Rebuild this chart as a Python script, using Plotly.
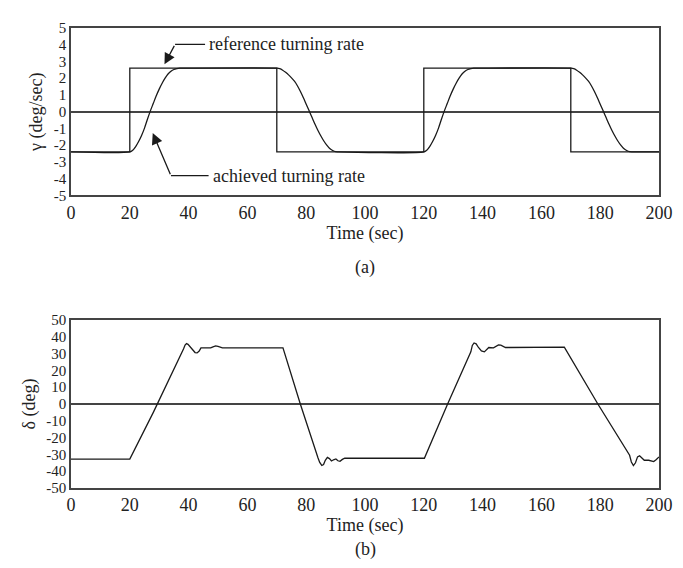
import plotly.graph_objects as go
from plotly.subplots import make_subplots

# ---------------- data ----------------
# (a) reference turning rate (step signal)
ref_t = [0, 20, 20, 70, 70, 120, 120, 170, 170, 200]
ref_gamma = [-2.4, -2.4, 2.6, 2.6, -2.4, -2.4, 2.6, 2.6, -2.4, -2.4]

# (a) achieved turning rate
ach_t = [0, 20, 21, 22, 23, 24, 25, 26, 27, 28, 29, 30, 31, 32, 33, 34, 35, 36, 37, 38,
         70, 71, 72, 73, 74, 75, 76, 77, 78, 79, 80, 81, 82, 83, 84, 85, 86, 87, 88, 89, 90, 91,
         120, 121, 122, 123, 124, 125, 126, 127, 128, 129, 130, 131, 132, 133, 134, 135, 136, 137, 138,
         170, 171, 172, 173, 174, 175, 176, 177, 178, 179, 180, 181, 182, 183, 184, 185, 186, 187, 188, 189, 190, 191,
         200]
ach_gamma = [-2.4, -2.4, -2.3, -2.08, -1.78, -1.42, -0.98, -0.45, 0.05, 0.5, 0.95, 1.35, 1.7, 2.0, 2.25, 2.42, 2.52, 2.57, 2.6, 2.6,
             2.6, 2.57, 2.48, 2.35, 2.2, 2.02, 1.82, 1.55, 1.22, 0.85, 0.45, 0.05, -0.35, -0.75, -1.12, -1.45, -1.75, -2.0, -2.2, -2.32, -2.39, -2.4,
             -2.4, -2.3, -2.08, -1.78, -1.42, -0.98, -0.45, 0.05, 0.5, 0.95, 1.35, 1.7, 2.0, 2.25, 2.42, 2.52, 2.57, 2.6, 2.6,
             2.6, 2.57, 2.48, 2.35, 2.2, 2.02, 1.82, 1.55, 1.22, 0.85, 0.45, 0.05, -0.35, -0.75, -1.12, -1.45, -1.75, -2.0, -2.2, -2.32, -2.39, -2.4,
             -2.4]

# (b) rudder angle delta
del_t = [0, 20, 28, 37.5, 38.3, 38.8, 39.3, 39.8, 40.5, 41.3, 42.2, 42.9, 43.6, 44.2, 47.5, 48.3, 49.2, 50.0, 50.8, 51.5, 72.1,
         78.0, 84.0, 84.6, 85.3, 85.9, 86.5, 87.2, 87.9, 88.6, 89.3, 90.1, 90.8, 91.5, 92.3, 93.1, 120.2,
         128.1, 136.0, 136.5, 137.1, 137.8, 138.6, 139.6, 140.6, 141.4, 142.1, 143.7, 144.6, 145.4, 146.2, 147.0, 147.8, 148.8, 167.8,
         179.2, 190.0, 190.6, 191.3, 192.0, 192.7, 193.4, 194.2, 195.0, 196.5, 197.4, 198.2, 199.0, 200.0]
del_deg = [-32.8, -32.8, -5.0, 29.0, 32.8, 35.0, 35.9, 35.5, 34.0, 32.0, 30.6, 30.4, 31.5, 33.4, 33.4, 34.0, 34.5, 34.3, 33.7, 33.4, 33.4,
           0.0, -32.0, -34.8, -36.6, -36.0, -33.5, -31.8, -32.5, -33.9, -33.2, -32.7, -33.8, -34.1, -33.0, -32.3, -32.3,
           0.0, 31.0, 34.8, 36.3, 35.8, 33.6, 31.6, 31.0, 32.4, 33.6, 33.4, 34.2, 35.1, 35.0, 34.2, 33.6, 33.6, 33.8,
           0.0, -30.5, -34.5, -36.7, -35.0, -31.5, -30.8, -32.3, -33.5, -33.5, -33.9, -34.3, -33.2, -31.5]

x_ticks = [0, 20, 40, 60, 80, 100, 120, 140, 160, 180, 200]
g_ticks = [5, 4, 3, 2, 1, 0, -1, -2, -3, -4, -5]
g_tick_text = ["5", "4", "3", "2", "1", "0", "-1", "-2", "-3", "-4", "-5"]
d_ticks = [50, 40, 30, 20, 10, 0, -10, -20, -30, -40, -50]
d_tick_text = ["50", "40", "30", "20", "10", "0", "-10", "-20", "-30", "-40", "-50"]

# ---------------- figure ----------------
FONT = "Liberation Serif"
FS = 18
FS_Y = 15
LINE = "#1a1a1a"
FRAME = "#444444"
TXT = "#222222"

fig = make_subplots(rows=2, cols=1)

fig.add_trace(go.Scatter(x=ref_t, y=ref_gamma, mode="lines",
                         line=dict(color=LINE, width=1.3), showlegend=False), row=1, col=1)
fig.add_trace(go.Scatter(x=ach_t, y=ach_gamma, mode="lines", line_shape="spline",
                         line=dict(color=LINE, width=1.3, smoothing=0.8), showlegend=False), row=1, col=1)
fig.add_trace(go.Scatter(x=del_t, y=del_deg, mode="lines",
                         line=dict(color=LINE, width=1.3), showlegend=False), row=2, col=1)

axis_common = dict(showline=True, mirror=True, linecolor=FRAME, linewidth=1.6,
                   showgrid=False, ticks="", zeroline=True, zerolinecolor=FRAME,
                   zerolinewidth=1.5)

top_h = (480 - 182.3) / 468
bot_h = (480 - 309) / 468

fig.update_layout(
    width=683, height=568,
    margin=dict(l=63, r=32, t=12, b=88),
    plot_bgcolor="white", paper_bgcolor="white",
    font=dict(family=FONT, size=FS, color=TXT),
    xaxis=dict(axis_common, range=[0, 200], tickvals=x_ticks, domain=[0, 1],
               tickfont=dict(family=FONT, size=FS, color=TXT),
               title=dict(text="Time (sec)", font=dict(family=FONT, size=FS), standoff=2)),
    yaxis=dict(axis_common, range=[-5, 5], tickvals=g_ticks, ticktext=g_tick_text,
               domain=[top_h, 1], tickfont=dict(family=FONT, size=FS_Y, color=TXT),
               title=dict(text="γ (deg/sec)", font=dict(family=FONT, size=FS), standoff=6)),
    xaxis2=dict(axis_common, range=[0, 200], tickvals=x_ticks, domain=[0, 1],
                tickfont=dict(family=FONT, size=FS, color=TXT),
                title=dict(text="Time (sec)", font=dict(family=FONT, size=FS), standoff=2)),
    yaxis2=dict(axis_common, range=[-50, 50], tickvals=d_ticks, ticktext=d_tick_text,
                domain=[0, bot_h], tickfont=dict(family=FONT, size=FS_Y, color=TXT),
                title=dict(text="δ (deg)", font=dict(family=FONT, size=FS), standoff=6)),
)

# elbow lines of callouts
fig.add_shape(type="line", xref="x", yref="y", x0=35.4, y0=4.02, x1=45.6, y1=4.02,
              line=dict(color=LINE, width=1.3))
fig.add_shape(type="line", xref="x", yref="y", x0=34.0, y0=-3.82, x1=46.8, y1=-3.82,
              line=dict(color=LINE, width=1.3))

fig.add_annotation(x=31.8, y=2.83, ax=35.4, ay=4.02, xref="x", yref="y", axref="x", ayref="y",
                   showarrow=True, arrowhead=2, arrowsize=1.7, arrowwidth=1.3, arrowcolor=LINE, text="")
fig.add_annotation(x=27.8, y=-1.28, ax=34.0, ay=-3.82, xref="x", yref="y", axref="x", ayref="y",
                   showarrow=True, arrowhead=2, arrowsize=1.7, arrowwidth=1.3, arrowcolor=LINE, text="")

fig.add_annotation(x=47.1, y=4.02, xref="x", yref="y", text="reference turning rate",
                   showarrow=False, xanchor="left", xshift=-2,
                   font=dict(family=FONT, size=FS, color=TXT))
fig.add_annotation(x=48.2, y=-3.82, xref="x", yref="y", text="achieved turning rate",
                   showarrow=False, xanchor="left", xshift=-2,
                   font=dict(family=FONT, size=FS, color=TXT))

# panel labels (positions given in pixels, converted to paper fraction)
fig.add_annotation(x=0.5, y=(480 - 256) / 468, xref="paper", yref="paper", text="(a)", showarrow=False,
                   font=dict(family=FONT, size=FS, color=TXT))
fig.add_annotation(x=0.5, y=(480 - 555) / 468, xref="paper", yref="paper", text="(b)", showarrow=False,
                   font=dict(family=FONT, size=FS, color=TXT))

fig.write_html("out.html")
